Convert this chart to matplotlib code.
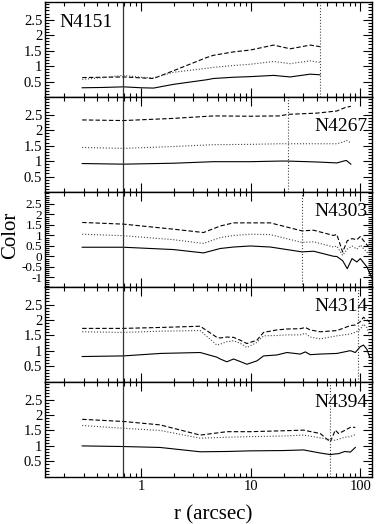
import matplotlib
matplotlib.use("Agg")
import matplotlib.pyplot as plt
from matplotlib.ticker import MultipleLocator, FuncFormatter, LogLocator, NullFormatter

plt.rcParams['font.family'] = ['Liberation Serif', 'DejaVu Serif']
plt.rcParams['axes.unicode_minus'] = False

# galaxy names and aperture / radius markers
names = ["N4151", "N4267", "N4303", "N4314", "N4394"]
r_seeing = 0.69
r_mark = [42.8, 21.7, 29.3, 95.3, 53.2]

# N4151
r1 = [0.29, 0.45, 0.69, 1.0, 1.3, 1.97, 3.98, 4.58, 6.97, 9.9, 16.2, 22.9, 34.9, 42.8]
solid1 = [0.30, 0.31, 0.33, 0.30, 0.29, 0.41, 0.56, 0.60, 0.64, 0.66, 0.70, 0.65, 0.74, 0.72]
dash1 = [0.63, 0.64, 0.65, 0.62, 0.60, 0.85, 1.28, 1.35, 1.46, 1.52, 1.68, 1.56, 1.68, 1.63]
dot1 = [0.57, 0.63, 0.70, 0.64, 0.62, 0.80, 0.93, 0.96, 1.02, 1.06, 1.15, 1.08, 1.17, 1.12]

# N4267
r2 = [0.29, 0.69, 1.97, 4.58, 9.9, 18.6, 21.7, 40.2, 61.3, 70.4, 74.5, 82]
solid2 = [0.92, 0.90, 0.93, 0.98, 0.98, 1.00, 1.00, 0.97, 0.94, 1.00, 1.02, 0.90]
dash2 = [2.33, 2.31, 2.38, 2.46, 2.45, 2.46, 2.51, 2.55, 2.62, 2.71, 2.74, 2.77]
dot2 = [1.44, 1.41, 1.47, 1.53, 1.54, 1.56, 1.56, 1.56, 1.56, 1.62, 1.67, 1.59]

# N4303
r3 = [0.29, 0.69, 1.97, 3.71, 5.27, 6.97, 9.9, 15.1, 29.3, 37.5, 57, 61, 69, 76, 84, 93, 100, 115, 128]
solid3 = [0.44, 0.44, 0.33, 0.17, 0.38, 0.45, 0.50, 0.45, 0.22, 0.25, 0.01, 0.0, -0.2, -0.58, -0.1, -0.26, -0.1, -0.5, -1.06]
dash3 = [1.62, 1.54, 1.30, 1.14, 1.45, 1.60, 1.60, 1.60, 1.22, 1.25, 1.0, 1.05, 0.21, 0.75, 0.85, 0.8, 0.95, 0.55, 0.35]
dot3 = [1.06, 0.99, 0.80, 0.62, 0.90, 1.00, 1.06, 1.04, 0.67, 0.70, 0.45, 0.5, 0.05, 0.35, 0.5, 0.35, 0.54, 0.2, -0.05]

# N4314
r4 = [0.29, 0.69, 1.5, 3.46, 4.91, 5.27, 6.06, 6.97, 8.0, 9.23, 11.4, 13.1, 17.3, 21.4, 28.3, 31.5, 34.9, 43.1, 61.3, 81.1, 90, 100, 107, 115, 122]
solid4 = [0.82, 0.84, 0.92, 0.95, 0.80, 0.74, 0.65, 0.74, 0.66, 0.57, 0.68, 0.84, 0.87, 0.95, 0.90, 0.97, 0.88, 0.90, 0.92, 1.01, 0.95, 1.14, 1.19, 1.05, 0.79]
dash4 = [1.73, 1.73, 1.76, 1.80, 1.44, 1.42, 1.45, 1.44, 1.35, 1.24, 1.35, 1.60, 1.68, 1.71, 1.72, 1.76, 1.68, 1.62, 1.66, 1.82, 1.84, 1.95, 2.09, 2.00, 1.93]
dot4 = [1.62, 1.60, 1.64, 1.66, 1.19, 1.22, 1.30, 1.33, 1.25, 1.11, 1.28, 1.49, 1.50, 1.52, 1.52, 1.57, 1.45, 1.39, 1.49, 1.55, 1.60, 1.70, 1.87, 1.75, 1.45]

# N4394
r5 = [0.29, 0.69, 1.49, 3.46, 6.06, 9.9, 19.9, 30.4, 43.1, 53.2, 59.1, 63.4, 72, 81.1, 90]
solid5 = [1.00, 0.98, 0.95, 0.81, 0.82, 0.84, 0.85, 0.87, 0.77, 0.72, 0.74, 0.75, 0.82, 0.80, 0.95]
dash5 = [1.86, 1.79, 1.68, 1.35, 1.46, 1.46, 1.49, 1.51, 1.40, 1.13, 1.51, 1.40, 1.50, 1.60, 1.60]
dot5 = [1.66, 1.57, 1.50, 1.25, 1.28, 1.30, 1.32, 1.35, 1.26, 1.20, 1.18, 1.22, 1.28, 1.30, 1.37]

radii = [r1, r2, r3, r4, r5]
solids = [solid1, solid2, solid3, solid4, solid5]
dashes = [dash1, dash2, dash3, dash4, dash5]
dots = [dot1, dot2, dot3, dot4, dot5]

ylims = [(0, 3.07), (0, 3.07), (-1.45, 3.07), (0, 3.07), (0, 3.07)]
yticks_std = [0.5, 1, 1.5, 2, 2.5]
yticks_wide = [-1, -0.5, 0, 0.5, 1, 1.5, 2, 2.5]
yticks = [yticks_std, yticks_std, yticks_wide, yticks_std, yticks_std]
label_pos = [(0.045, 0.78, 'left'), (0.985, 0.69, 'right'), (0.985, 0.79, 'right'),
             (0.985, 0.79, 'right'), (0.985, 0.78, 'right')]


def run():
    fig, axes = plt.subplots(5, 1, sharex=True, figsize=(3.82, 5.24), dpi=100)
    fig.subplots_adjust(left=0.118, right=0.974, top=0.996, bottom=0.09, hspace=0)

    for i, ax in enumerate(axes):
        ax.plot(radii[i], solids[i], '-', color='black', lw=0.8)
        ax.plot(radii[i], dashes[i], '--', color='black', lw=0.8, dashes=(4, 2))
        ax.plot(radii[i], dots[i], ':', color='#444444', lw=0.8)
        ax.axvline(r_seeing, color='#333333', lw=0.9)
        ax.axvline(r_mark[i], color='#444444', lw=0.8, ls=':')

        x, y, ha = label_pos[i]
        ax.text(x, y, names[i], transform=ax.transAxes, ha=ha, va='center', fontsize=14)

        ax.set_xscale('log')
        ax.set_xlim(0.133, 128)
        ax.set_ylim(*ylims[i])
        ax.set_yticks(yticks[i])
        ax.yaxis.set_minor_locator(MultipleLocator(0.1))
        ax.yaxis.set_major_formatter(FuncFormatter(lambda v, p: '%g' % v))
        ax.xaxis.set_major_locator(LogLocator(base=10))
        ax.xaxis.set_minor_locator(LogLocator(base=10, subs=range(2, 10)))
        ax.xaxis.set_minor_formatter(NullFormatter())
        ax.tick_params(which='both', direction='in', top=True, right=True, labelsize=10.5,
                       width=0.8)
        ax.tick_params(which='major', length=6.5, pad=2)
        ax.tick_params(which='minor', length=3.2)
        for s in ax.spines.values():
            s.set_linewidth(1.0)

    # the wide panel has crowded labels
    axes[2].tick_params(axis='y', labelsize=9.5)

    axes[-1].xaxis.set_major_formatter(FuncFormatter(lambda v, p: '%g' % v))

    fig.text(0.027, 1 - 235 / 524, 'Color', rotation=90, ha='center', va='center', fontsize=15)
    fig.text(0.557, 0.017, 'r (arcsec)', ha='center', va='center', fontsize=15)

    fig.savefig('out.png', dpi=100)


if __name__ == '__main__':
    run()
